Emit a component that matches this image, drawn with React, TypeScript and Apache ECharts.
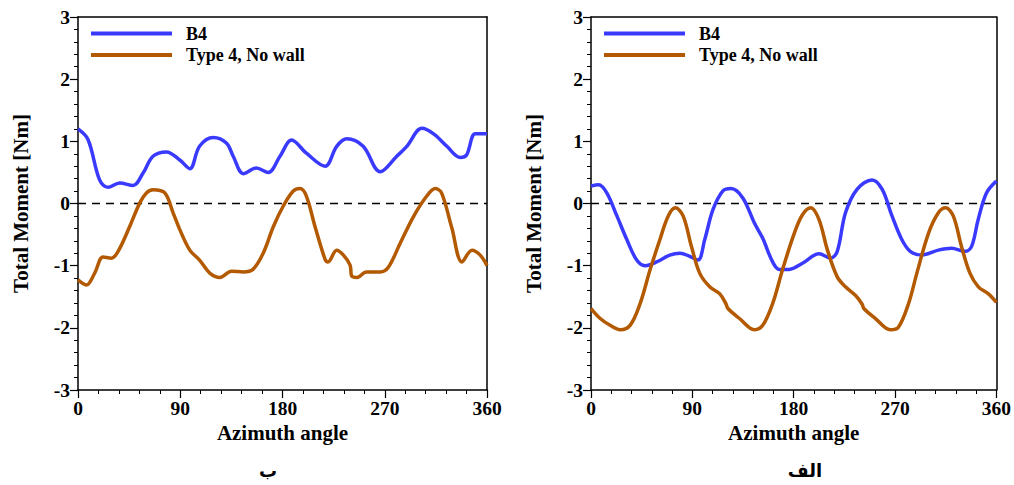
import React, { useEffect, useRef } from "react";
import * as echarts from "echarts";

// ---- Data ----
const xTicks = [0, 90, 180, 270, 360];
const yTicks = [-3, -2, -1, 0, 1, 2, 3];
const seriesNames = ["B4", "Type 4, No wall"];
const panelLabels = ["ب", "الف"];

// Left panel (ب)
const leftB4Angle = [0, 8.8, 19, 26.4, 36.7, 48.5, 57.3, 66, 77.9, 89.6, 98.4, 107, 119, 130.8, 136.6, 145.5, 157, 167.5, 177.8, 188, 201, 217.5, 227.7, 236.6, 251, 266, 280.6, 289.4, 302.7, 313, 324.7, 336.5, 342, 349.7, 360];
const leftB4Value = [1.2, 1.03, 0.38, 0.26, 0.33, 0.29, 0.49, 0.76, 0.83, 0.7, 0.56, 0.92, 1.06, 0.97, 0.76, 0.48, 0.57, 0.5, 0.76, 1.02, 0.81, 0.6, 0.92, 1.04, 0.92, 0.51, 0.76, 0.92, 1.21, 1.12, 0.92, 0.74, 0.78, 1.12, 1.12];
const leftT4Angle = [0, 7.3, 14.7, 22, 29.4, 35.3, 45.5, 54.4, 60.2, 66, 76.4, 83.7, 89.6, 98.4, 107, 116, 124.9, 135, 145.5, 154, 163, 172, 180.7, 189.5, 195.4, 201, 208.6, 217.5, 220, 227.7, 233.6, 239.5, 241, 245.4, 254, 266, 273, 283.6, 295.3, 307, 314.5, 320, 329, 338, 346.8, 354, 360];
const leftT4Value = [-1.23, -1.31, -1.12, -0.86, -0.88, -0.77, -0.37, 0.01, 0.17, 0.22, 0.17, -0.15, -0.42, -0.75, -0.91, -1.12, -1.19, -1.09, -1.1, -1.06, -0.8, -0.37, -0.04, 0.2, 0.24, 0.12, -0.37, -0.9, -0.94, -0.75, -0.83, -0.99, -1.17, -1.19, -1.1, -1.1, -1.03, -0.64, -0.21, 0.12, 0.24, 0.17, -0.39, -0.94, -0.75, -0.83, -1.0];

// Right panel (الف)
const rightB4Angle = [0, 6.8, 14, 23, 31.8, 40.6, 48, 58.3, 70, 79, 87.7, 95, 101, 108.3, 117, 124.5, 134.8, 145, 152.5, 161.3, 167.2, 176, 187.8, 202.5, 212.8, 218.7, 226, 236.4, 249.6, 258.5, 267.3, 276, 283.5, 293.8, 308.5, 320.3, 332, 338, 343.8, 351.2, 360];
const rightB4Value = [0.28, 0.3, 0.17, -0.2, -0.58, -0.91, -1.0, -0.94, -0.83, -0.8, -0.85, -0.91, -0.58, -0.1, 0.2, 0.24, 0.09, -0.31, -0.56, -0.94, -1.06, -1.06, -0.96, -0.81, -0.88, -0.77, -0.15, 0.23, 0.38, 0.23, -0.2, -0.58, -0.77, -0.83, -0.75, -0.72, -0.77, -0.69, -0.26, 0.17, 0.36];
const rightT4Angle = [0, 8.2, 17, 26, 34.7, 43.6, 52.4, 61.2, 68.6, 75, 81.8, 89.2, 96.5, 105.4, 114.2, 120, 121.6, 131.9, 145, 152.5, 161.3, 170, 180.5, 187.8, 195.2, 202.5, 210, 218.7, 226, 235, 240.8, 242.3, 252.6, 265.8, 273, 282, 289.4, 299.7, 308.5, 315, 321.7, 329, 336.5, 344, 352.7, 360];
const rightT4Value = [-1.69, -1.85, -1.96, -2.03, -1.96, -1.61, -1.07, -0.58, -0.2, -0.07, -0.2, -0.69, -1.12, -1.34, -1.45, -1.62, -1.69, -1.85, -2.03, -1.96, -1.61, -1.07, -0.48, -0.18, -0.07, -0.26, -0.75, -1.18, -1.34, -1.48, -1.62, -1.69, -1.85, -2.03, -1.99, -1.61, -1.12, -0.48, -0.15, -0.07, -0.2, -0.69, -1.12, -1.34, -1.45, -1.59];

const BLUE = "#3a3aff";
const ORANGE = "#b35900";
const SERIF = "'Liberation Serif', 'Times New Roman', serif";

const pairs = (a: number[], v: number[]) => a.map((x, i) => [x, v[i]]);

export default function App() {
  const ref = useRef<HTMLDivElement>(null);
  useEffect(() => {
    if (!ref.current) return;
    const chart = echarts.init(ref.current, null, { renderer: "svg" });

    const grids = [
      { left: 78, right: 527, top: 17, bottom: 95 },
      { left: 591, right: 16, top: 17, bottom: 95 },
    ];
    const labelStyle = { fontFamily: SERIF, fontWeight: "bold" as const, fontSize: 19.5, color: "#000" };
    const nameStyle = { fontFamily: SERIF, fontWeight: "bold" as const, fontSize: 21, color: "#000" };
    const xAxes: any[] = [];
    const yAxes: any[] = [];
    grids.forEach((_, gi) => {
      xAxes.push({
        type: "value", gridIndex: gi, min: 0, max: 360, interval: 90, position: "bottom",
        name: "Azimuth angle", nameLocation: "middle", nameGap: 28,
        nameTextStyle: nameStyle,
        axisLine: { show: true, onZero: false, lineStyle: { color: "#000", width: 1.5 } },
        axisTick: { show: true, inside: false, length: 8, lineStyle: { color: "#000", width: 1.2 } },
        minorTick: { show: true, splitNumber: 5, length: 4, lineStyle: { color: "#000", width: 1 } },
        axisLabel: { ...labelStyle, margin: 8, formatter: (v: number) => (xTicks.includes(v) ? String(v) : "") },
        splitLine: { show: false },
      });
      xAxes.push({
        type: "value", gridIndex: gi, min: 0, max: 360, position: "top",
        axisLine: { show: true, onZero: false, lineStyle: { color: "#000", width: 1.5 } },
        axisTick: { show: false }, axisLabel: { show: false }, splitLine: { show: false },
      });
      yAxes.push({
        type: "value", gridIndex: gi, min: -3, max: 3, interval: 1, position: "left",
        name: "Total Moment [Nm]", nameLocation: "middle", nameGap: 47, nameRotate: 90,
        nameTextStyle: nameStyle,
        axisLine: { show: true, onZero: false, lineStyle: { color: "#000", width: 1.5 } },
        axisTick: { show: true, inside: false, length: 8, lineStyle: { color: "#000", width: 1.2 } },
        minorTick: { show: true, splitNumber: 5, length: 4, lineStyle: { color: "#000", width: 1 } },
        axisLabel: { ...labelStyle, margin: 8, formatter: (v: number) => (yTicks.includes(v) ? String(v) : "") },
        splitLine: { show: false },
      });
      yAxes.push({
        type: "value", gridIndex: gi, min: -3, max: 3, position: "right",
        axisLine: { show: true, onZero: false, lineStyle: { color: "#000", width: 1.5 } },
        axisTick: { show: false }, axisLabel: { show: false }, splitLine: { show: false },
      });
    });

    const line = (name: string, gi: number, data: number[][], color: string) => ({
      type: "line", name, xAxisIndex: gi * 2, yAxisIndex: gi * 2, data,
      smooth: 0.35, showSymbol: false, symbol: "none",
      lineStyle: { color, width: 3.5 }, z: 3,
    });
    const zero = (gi: number) => ({
      type: "line", xAxisIndex: gi * 2, yAxisIndex: gi * 2, data: [[0, 0], [360, 0]],
      showSymbol: false, symbol: "none", silent: true,
      lineStyle: { color: "#000", width: 1.5, type: [8, 6] }, z: 2,
    });

    const legendText = (text: string, x: number, y: number) => ({
      type: "text", x, y,
      style: { text, fontFamily: SERIF, fontWeight: "bold", fontSize: 18, fill: "#000", verticalAlign: "middle" },
    });
    const legendGraphic = (dx: number) => [
      { type: "line", shape: { x1: 91 + dx, y1: 33.5, x2: 172 + dx, y2: 33.5 }, style: { stroke: BLUE, lineWidth: 4 } },
      { type: "line", shape: { x1: 91 + dx, y1: 55, x2: 172 + dx, y2: 55 }, style: { stroke: ORANGE, lineWidth: 4 } },
      legendText(seriesNames[0], 186 + dx, 33.5),
      legendText(seriesNames[1], 186 + dx, 55),
    ];
    const arabic = (text: string, x: number) => ({
      type: "text", x, y: 470,
      style: { text, fontFamily: "'DejaVu Sans', 'Noto Sans', sans-serif", fontWeight: "bold", fontSize: 18, fill: "#000", align: "center", verticalAlign: "middle" },
    });

    chart.setOption({
      animation: false,
      backgroundColor: "#fff",
      grid: grids,
      xAxis: xAxes,
      yAxis: yAxes,
      series: [
        zero(0), zero(1),
        line(seriesNames[0], 0, pairs(leftB4Angle, leftB4Value), BLUE),
        line(seriesNames[1], 0, pairs(leftT4Angle, leftT4Value), ORANGE),
        line(seriesNames[0], 1, pairs(rightB4Angle, rightB4Value), BLUE),
        line(seriesNames[1], 1, pairs(rightT4Angle, rightT4Value), ORANGE),
      ],
      graphic: [
        ...legendGraphic(0),
        ...legendGraphic(513),
        arabic(panelLabels[0], 268),
        arabic(panelLabels[1], 805),
      ],
    });
    return () => chart.dispose();
  }, []);
  return <div ref={ref} style={{ position: "fixed", left: 0, top: 0, width: 1014, height: 485, background: "#fff" }} />;
}
